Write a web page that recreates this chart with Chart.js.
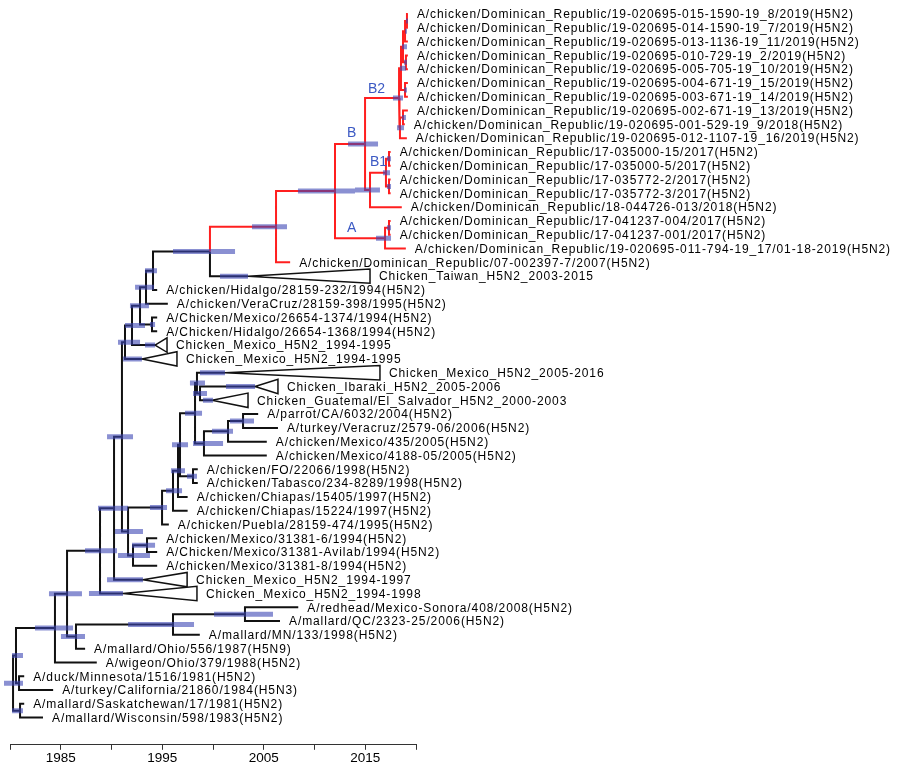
<!DOCTYPE html>
<html><head><meta charset="utf-8">
<script src="https://cdn.jsdelivr.net/npm/chart.js@4.4.1/dist/chart.umd.min.js"></script>
<style>html,body{margin:0;padding:0;background:#fff;}canvas{display:block;}</style>
</head><body>
<canvas id="c" width="900" height="772"></canvas>
<script>
// ---------- DATA ----------
const tipLabels = [
 "A/chicken/Dominican_Republic/19-020695-015-1590-19_8/2019(H5N2)",
 "A/chicken/Dominican_Republic/19-020695-014-1590-19_7/2019(H5N2)",
 "A/chicken/Dominican_Republic/19-020695-013-1136-19_11/2019(H5N2)",
 "A/chicken/Dominican_Republic/19-020695-010-729-19_2/2019(H5N2)",
 "A/chicken/Dominican_Republic/19-020695-005-705-19_10/2019(H5N2)",
 "A/chicken/Dominican_Republic/19-020695-004-671-19_15/2019(H5N2)",
 "A/chicken/Dominican_Republic/19-020695-003-671-19_14/2019(H5N2)",
 "A/chicken/Dominican_Republic/19-020695-002-671-19_13/2019(H5N2)",
 "A/chicken/Dominican_Republic/19-020695-001-529-19_9/2018(H5N2)",
 "A/chicken/Dominican_Republic/19-020695-012-1107-19_16/2019(H5N2)",
 "A/chicken/Dominican_Republic/17-035000-15/2017(H5N2)",
 "A/chicken/Dominican_Republic/17-035000-5/2017(H5N2)",
 "A/chicken/Dominican_Republic/17-035772-2/2017(H5N2)",
 "A/chicken/Dominican_Republic/17-035772-3/2017(H5N2)",
 "A/chicken/Dominican_Republic/18-044726-013/2018(H5N2)",
 "A/chicken/Dominican_Republic/17-041237-004/2017(H5N2)",
 "A/chicken/Dominican_Republic/17-041237-001/2017(H5N2)",
 "A/chicken/Dominican_Republic/19-020695-011-794-19_17/01-18-2019(H5N2)",
 "A/chicken/Dominican_Republic/07-002397-7/2007(H5N2)",
 "Chicken_Taiwan_H5N2_2003-2015",
 "A/chicken/Hidalgo/28159-232/1994(H5N2)",
 "A/chicken/VeraCruz/28159-398/1995(H5N2)",
 "A/Chicken/Mexico/26654-1374/1994(H5N2)",
 "A/Chicken/Hidalgo/26654-1368/1994(H5N2)",
 "Chicken_Mexico_H5N2_1994-1995",
 "Chicken_Mexico_H5N2_1994-1995",
 "Chicken_Mexico_H5N2_2005-2016",
 "Chicken_Ibaraki_H5N2_2005-2006",
 "Chicken_Guatemal/El_Salvador_H5N2_2000-2003",
 "A/parrot/CA/6032/2004(H5N2)",
 "A/turkey/Veracruz/2579-06/2006(H5N2)",
 "A/chicken/Mexico/435/2005(H5N2)",
 "A/chicken/Mexico/4188-05/2005(H5N2)",
 "A/chicken/FO/22066/1998(H5N2)",
 "A/chicken/Tabasco/234-8289/1998(H5N2)",
 "A/chicken/Chiapas/15405/1997(H5N2)",
 "A/chicken/Chiapas/15224/1997(H5N2)",
 "A/chicken/Puebla/28159-474/1995(H5N2)",
 "A/chicken/Mexico/31381-6/1994(H5N2)",
 "A/Chicken/Mexico/31381-Avilab/1994(H5N2)",
 "A/chicken/Mexico/31381-8/1994(H5N2)",
 "Chicken_Mexico_H5N2_1994-1997",
 "Chicken_Mexico_H5N2_1994-1998",
 "A/redhead/Mexico-Sonora/408/2008(H5N2)",
 "A/mallard/QC/2323-25/2006(H5N2)",
 "A/mallard/MN/133/1998(H5N2)",
 "A/mallard/Ohio/556/1987(H5N9)",
 "A/wigeon/Ohio/379/1988(H5N2)",
 "A/duck/Minnesota/1516/1981(H5N2)",
 "A/turkey/California/21860/1984(H5N3)",
 "A/mallard/Saskatchewan/17/1981(H5N2)",
 "A/mallard/Wisconsin/598/1983(H5N2)"
];
// decimal year where each tip branch ends (apex year for collapsed clades)
const tipDates = [
 2019.2, 2019.2, 2019.2, 2019.2, 2019.2, 2019.2, 2019.2, 2019.2, 2018.9, 2019.1,
 2017.5, 2017.5, 2017.5, 2017.5, 2018.6, 2017.5, 2017.5, 2019.0, 2007.6, 2003.45,
 1994.5, 1995.55, 1994.5, 1994.5, 1994.29, 1993.0, 2001.18, 2004.14, 1999.9, 2004.45,
 2006.4, 2005.3, 2005.3, 1998.5, 1998.5, 1997.5, 1997.5, 1995.65, 1994.5, 1994.5,
 1994.5, 1993.1, 1991.13, 2008.4, 2006.6, 1998.7, 1987.4, 1988.55, 1981.4, 1984.25,
 1981.4, 1983.25
];
// collapsed clades (triangles)
const collapsedRows     = [19, 24, 25, 26, 27, 28, 41, 42];
const collapsedEnd      = [2015.47, 1995.47, 1996.45, 2016.45, 2006.4, 2003.45, 1997.45, 1998.42];
const collapsedHpdLow   = [2000.69, 1993.3, 1991.13, 1998.72, 2001.28, 1999.01, 1989.56, 1987.78];
const collapsedHpdHigh  = [2003.45, 1994.29, 1993.0, 2001.18, 2004.14, 2000.0, 1993.1, 1991.13];
const collapsedHalf = 0.52;

// internal nodes: children are tip row indices (numbers) or node names
const nodeNames = ["ROOT","N1","D","N2","C1","M","W","V","U","MEX","Z","ZU","S3","S2","S1","P","Q","L","K","FT","J","I","G","H","F","E",
 "UM","A4","A3","MX2","A2","A1","RT","RED","R335","B","B1G","B1","B1A","B1B","A","AP","B2","X1","X2","X5","X7","X6","X8","Y","X9"];
const nodeChildren = [
 ["N1","N2"], ["C1","D"], [48,49], [50,51], ["M",47], ["MEX","W"], ["V",46], ["U",45], [43,44],
 ["Z",42], ["ZU",41], ["UM","S3"], ["P","S2"], ["S1",40], [38,39], ["Q",37], ["L",36], ["K",35], ["J","FT"], [33,34],
 ["I","H"], [26,"G"], [27,28], ["F",32], ["E",31], [29,30],
 ["A4",25], ["A3",24], ["A2","MX2"], [22,23], ["A1",21], ["RT",20], ["RED",19], ["R335",18], ["B","A"], ["B2","B1G"],
 ["B1",14], ["B1A","B1B"], [10,11], [12,13], ["AP",17], [15,16], ["X1","Y"], ["X2","X8"], ["X5","X6"], ["X7",2], [0,1],
 [3,4], [5,6], ["X9",9], [7,8]
];
const nodeDates = [
 1980.3, 1980.59, 1980.89, 1980.99, 1984.43, 1985.62, 1986.5, 1996.06, 2003.15,
 1988.87, 1990.25, 1991.03, 1991.63, 1992.12, 1993.5, 1994.98, 1996.06, 1996.55, 1996.75, 1998.03,
 1998.23, 1998.42, 1998.72, 1999.11, 2001.48, 2002.96,
 1991.33, 1992.02, 1992.81, 1993.99, 1993.4, 1994.09, 1999.7, 2006.21, 2012.02, 2014.98,
 2015.47, 2017.04, 2017.34, 2017.34, 2016.95, 2017.34, 2018.33, 2018.52, 2018.72, 2018.92, 2019.11,
 2019.01, 2018.92, 2018.42, 2018.72
];
const hpdLow = [
 1979.41, 1980.2, 1980.49, 1980.2, 1982.46, 1983.84, 1985.02, 1991.63, 2000.1,
 1987.39, 1988.67, 1989.56, 1990.34, 1990.64, 1992.02, 1993.79, 1995.37, 1995.86, 1995.96, 1997.44,
 1997.24, 1997.73, 1998.03, 1998.03, 1999.9, 2001.67,
 1990.64, 1991.33, 1991.82, 1993.79, 1992.32, 1993.3, 1996.06, 2003.84, 2008.37, 2013.3,
 2013.99, 2016.75, 2017.14, 2017.14, 2016.06, 2017.14, 2017.73, 2018.42, 2018.62, 2018.92, 2019.01,
 2018.82, 2018.82, 2018.13, 2018.62
];
const hpdHigh = [
 1981.28, 1981.28, 1981.18, 1981.28, 1986.21, 1987.09, 1987.39, 1998.13, 2005.91,
 1990.54, 1991.63, 1992.12, 1993.1, 1993.79, 1994.29, 1995.47, 1996.95, 1997.24, 1997.54, 1998.42,
 1998.92, 1999.21, 1999.41, 2000.99, 2001.97, 2004.04,
 1992.81, 1993.3, 1993.69, 1994.29, 1994.19, 1994.48, 2002.17, 2007.29, 2013.99, 2016.26,
 2016.45, 2017.44, 2017.54, 2017.54, 2017.54, 2017.54, 2018.72, 2019.01, 2019.11, 2019.11, 2019.21,
 2019.11, 2019.11, 2018.82, 2019.01
];
const redCladeRoot = "RED";
const xTickYears = [1980, 1985, 1990, 1995, 2000, 2005, 2010, 2015, 2020];
const xLabelYears = [1985, 1995, 2005, 2015];
const cladeNames = ["B2", "B", "B1", "A"];
const cladeYears = [2015.27, 2013.2, 2015.47, 2013.2];
const cladeRows  = [5.36, 8.55, 10.69, 15.43];

// ---------- BUILD ----------
const idx = {}; nodeNames.forEach((n, i) => idx[n] = i);
const nodeRow = [];
function rowOf(c) { return typeof c === "number" ? c : computeRow(idx[c]); }
function computeRow(i) {
  if (nodeRow[i] !== undefined) return nodeRow[i];
  const ch = nodeChildren[i];
  return nodeRow[i] = (rowOf(ch[0]) + rowOf(ch[ch.length - 1])) / 2;
}
function dateOf(c) { return typeof c === "number" ? tipDates[c] : nodeDates[idx[c]]; }
const redSet = new Set();
(function mark(name) {
  redSet.add(name);
  for (const c of nodeChildren[idx[name]]) {
    if (typeof c === "number") redSet.add("t" + c); else mark(c);
  }
})(redCladeRoot);

const blackPts = [], redPts = [], triPts = [], barPts = [];
nodeNames.forEach((n, i) => {
  const px = nodeDates[i], py = computeRow(i);
  for (const c of nodeChildren[i]) {
    const key = typeof c === "number" ? "t" + c : c;
    const arr = redSet.has(key) ? redPts : blackPts;
    const cy = rowOf(c);
    arr.push({x: px, y: py}, {x: px, y: cy}, {x: dateOf(c), y: cy}, {x: px, y: null});
  }
  barPts.push({x: hpdLow[i], y: py}, {x: hpdHigh[i], y: py}, {x: hpdHigh[i], y: null});
});
collapsedRows.forEach((r, k) => {
  const a = tipDates[r], e = collapsedEnd[k];
  triPts.push({x: a, y: r}, {x: e, y: r - collapsedHalf}, {x: e, y: r + collapsedHalf}, {x: a, y: r}, {x: a, y: null});
  barPts.push({x: collapsedHpdLow[k], y: r}, {x: collapsedHpdHigh[k], y: r}, {x: collapsedHpdHigh[k], y: null});
});

const FONT = '"Liberation Sans", Arial, Helvetica, sans-serif';
const labelPlugin = {
  id: "tipLabels",
  afterDatasetsDraw(chart) {
    const {ctx, scales: {x, y}} = chart;
    ctx.save();
    ctx.font = "12px " + FONT;
    try { ctx.letterSpacing = "0.9px"; } catch (e) {}
    ctx.fillStyle = "#000";
    ctx.textBaseline = "middle";
    ctx.textAlign = "left";
    tipLabels.forEach((t, i) => {
      const ci = collapsedRows.indexOf(i);
      const xv = ci >= 0 ? collapsedEnd[ci] : tipDates[i];
      ctx.fillText(t, x.getPixelForValue(xv) + 9, y.getPixelForValue(i) + 1);
    });
    ctx.font = "14px " + FONT;
    try { ctx.letterSpacing = "0px"; } catch (e) {}
    ctx.fillStyle = "#3c5ac4";
    cladeNames.forEach((t, i) => {
      ctx.fillText(t, x.getPixelForValue(cladeYears[i]), y.getPixelForValue(cladeRows[i]) + 1);
    });
    ctx.restore();
  }
};

const common = {showLine: true, pointRadius: 0, pointHoverRadius: 0, fill: false, clip: false, spanGaps: false, tension: 0};
new Chart(document.getElementById("c"), {
  type: "scatter",
  data: {
    datasets: [
      Object.assign({label: "HPD", data: barPts, borderColor: "rgba(60,70,180,0.6)", borderWidth: 5, borderCapStyle: "butt"}, common),
      Object.assign({label: "red", data: redPts, borderColor: "#ff1f1f", borderWidth: 2, borderJoinStyle: "miter"}, common),
      Object.assign({label: "black", data: blackPts, borderColor: "#111", borderWidth: 2, borderJoinStyle: "miter"}, common),
      Object.assign({label: "collapsed", data: triPts, borderColor: "#111", borderWidth: 1.5, borderJoinStyle: "miter"}, common)
    ]
  },
  options: {
    responsive: false,
    devicePixelRatio: 1,
    animation: false,
    events: [],
    layout: {padding: {left: 10, right: 484, top: 0, bottom: 6}},
    plugins: {legend: {display: false}, tooltip: {enabled: false}},
    scales: {
      x: {
        type: "linear", position: "bottom", min: 1980, max: 2020,
        afterBuildTicks(scale) { scale.ticks = xTickYears.map(v => ({value: v})); },
        ticks: {
          autoSkip: false, maxRotation: 0, padding: 0, color: "#000",
          font: {family: FONT, size: 13.5},
          callback: v => xLabelYears.includes(v) ? String(v) : ""
        },
        grid: {drawOnChartArea: false, drawTicks: true, tickLength: 5, color: "#333", lineWidth: 1},
        border: {display: true, color: "#333", width: 1}
      },
      y: {type: "linear", reverse: true, min: -1.0145, max: 52.97, display: false}
    }
  },
  plugins: [labelPlugin]
});
</script>
</body></html>
